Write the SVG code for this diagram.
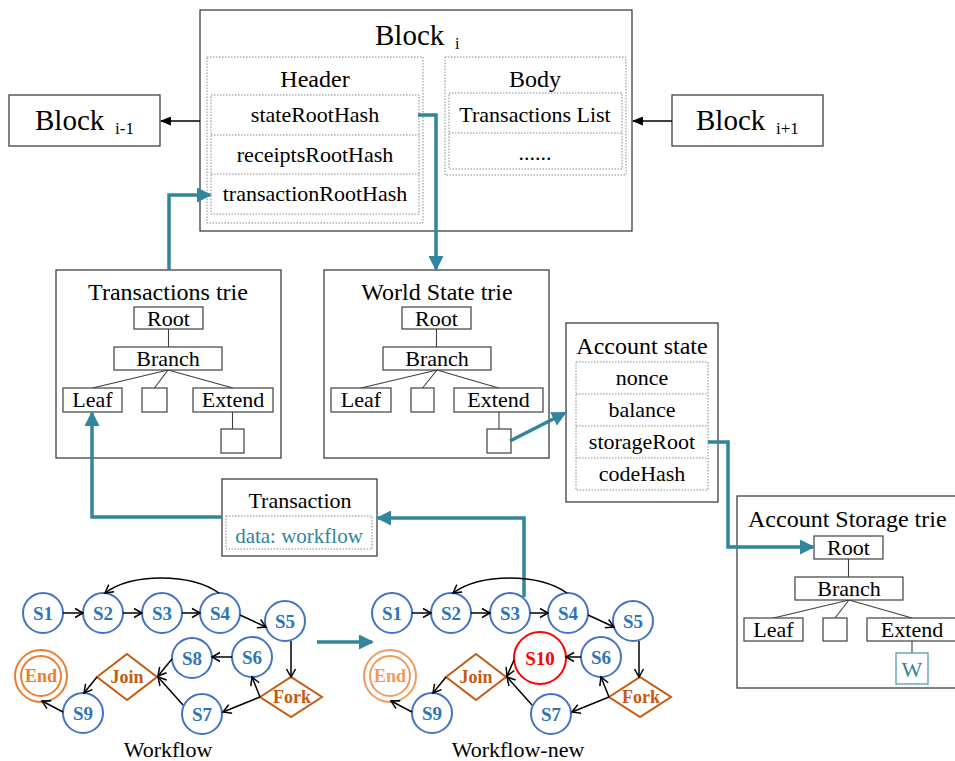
<svg xmlns="http://www.w3.org/2000/svg" width="955" height="761" viewBox="0 0 955 761">
  <style>
    .t { font-family: "Liberation Serif", "Times New Roman", serif; fill: #000; }
    .c { text-anchor: middle; }
    .box { fill: #fff; stroke: #404040; stroke-width: 1.3; }
    .nd { fill: #fff; stroke: #404040; stroke-width: 1.2; }
    .dot { fill: none; stroke: #8a8a8a; stroke-width: 1; stroke-dasharray: 1.5 1.5; }
    .tl { fill: none; stroke: #404040; stroke-width: 1.1; }
    .teal { fill: none; stroke: #31859C; stroke-width: 3.5; marker-end: url(#tealHead); }
    .blk { fill: none; stroke: #000; stroke-width: 1.4; marker-end: url(#blkHead); }
    .edge { fill: none; stroke: #000; stroke-width: 1.5; marker-end: url(#openHead); }
    .st circle { fill: #fff; stroke: #4472C4; stroke-width: 2; }
    .st text, .ctl text, .end text { font-family: "Liberation Serif", "Times New Roman", serif; font-weight: bold; text-anchor: middle; }
    .st text { font-size: 19px; fill: #2E75B6; }
    .ctl polygon { fill: #fff; stroke: #C55A11; stroke-width: 2; }
    .ctl text { font-size: 18px; fill: #C55A11; }
    .end circle { fill: #fff; stroke: #ED7D31; stroke-width: 2; }
    .end text { font-size: 18px; fill: #ED7D31; }
    .lbl { font-size: 22px; }
    .row { font-size: 22px; }
    .ttl { font-size: 24px; }
  </style>
  <defs>
    <marker id="tealHead" markerUnits="userSpaceOnUse" markerWidth="15" markerHeight="15" viewBox="0 0 15 15" refX="13" refY="7.5" orient="auto">
      <path d="M0,0 L15,7.5 L0,15 z" fill="#31859C"/>
    </marker>
    <marker id="blkHead" markerUnits="userSpaceOnUse" markerWidth="11" markerHeight="9" viewBox="0 0 11 9" refX="10" refY="4.5" orient="auto">
      <path d="M0,0 L11,4.5 L0,9 z" fill="#000"/>
    </marker>
    <marker id="openHead" markerUnits="userSpaceOnUse" markerWidth="12" markerHeight="12" viewBox="-1 -1 12 12" refX="9" refY="5" orient="auto" overflow="visible">
      <path d="M1,0.5 L9,5 L1,9.5" fill="none" stroke="#000" stroke-width="1.5"/>
    </marker>
  </defs>

  <rect width="955" height="761" fill="#fff"/>

  <!-- Block i with header and body -->
  <g id="block-i">
    <rect class="box" x="200" y="10" width="432" height="221"/>
    <text class="t" x="375" y="45" font-size="29">Block</text>
    <text class="t" x="455" y="49" font-size="16">i</text>
    <g id="header">
      <rect class="dot" x="207" y="57" width="216" height="166"/>
      <text class="t c" x="315" y="87" font-size="24">Header</text>
      <rect class="dot" x="211" y="95" width="208" height="119"/>
      <path class="dot" d="M211,135 H419 M211,174 H419"/>
      <text class="t c row" x="315" y="122">stateRootHash</text>
      <text class="t c row" x="315" y="162">receiptsRootHash</text>
      <text class="t c row" x="315" y="201">transactionRootHash</text>
    </g>
    <g id="body">
      <rect class="dot" x="445" y="57" width="181" height="118"/>
      <text class="t c" x="535" y="87" font-size="24">Body</text>
      <rect class="dot" x="449" y="93" width="173" height="76"/>
      <path class="dot" d="M449,133 H622"/>
      <text class="t c row" x="535" y="122">Transactions List</text>
      <text class="t c row" x="535" y="160">......</text>
    </g>
  </g>

  <g id="block-prev">
    <rect class="box" x="9" y="95" width="151" height="51"/>
    <text class="t" x="35" y="130" font-size="29">Block</text>
    <text class="t" x="115" y="134" font-size="17">i-1</text>
  </g>

  <g id="block-next">
    <rect class="box" x="672" y="95" width="151" height="51"/>
    <text class="t" x="696" y="130" font-size="29">Block</text>
    <text class="t" x="776" y="134" font-size="17">i+1</text>
  </g>

  <!-- Transactions trie -->
  <g id="trie-transactions">
    <rect class="box" x="56" y="270" width="225" height="188"/>
    <text class="t c ttl" x="168" y="300">Transactions trie</text>
    <path class="tl" d="M168.5,329 V347 M168,370 L92.5,388 M168,370 L154.5,388 M168,370 L233,388 M232.5,412 V429"/>
    <rect class="nd" x="134" y="307" width="69" height="22"/>
    <text class="t c lbl" x="168.5" y="326">Root</text>
    <rect class="nd" x="114" y="347" width="108" height="23"/>
    <text class="t c lbl" x="168" y="366">Branch</text>
    <rect class="nd" x="63" y="388" width="59" height="24"/>
    <text class="t c lbl" x="92.5" y="407">Leaf</text>
    <rect class="nd" x="142" y="388" width="25" height="24"/>
    <rect class="nd" x="193" y="388" width="80" height="24"/>
    <text class="t c lbl" x="233" y="407">Extend</text>
    <rect class="nd" x="221" y="429" width="23" height="24"/>
  </g>

  <!-- World State trie -->
  <g id="trie-world-state">
    <rect class="box" x="324" y="270" width="225" height="188"/>
    <text class="t c ttl" x="437" y="300">World State trie</text>
    <path class="tl" d="M436.5,329 V347 M437,370 L361,388 M437,370 L422.5,388 M437,370 L498.5,388 M499,412 V429"/>
    <rect class="nd" x="402" y="307" width="69" height="22"/>
    <text class="t c lbl" x="436.5" y="326">Root</text>
    <rect class="nd" x="383" y="347" width="108" height="23"/>
    <text class="t c lbl" x="437" y="366">Branch</text>
    <rect class="nd" x="331" y="388" width="60" height="24"/>
    <text class="t c lbl" x="361" y="407">Leaf</text>
    <rect class="nd" x="411" y="388" width="23" height="24"/>
    <rect class="nd" x="454" y="388" width="89" height="24"/>
    <text class="t c lbl" x="498.5" y="407">Extend</text>
    <rect class="nd" x="487" y="429" width="24" height="24"/>
  </g>

  <!-- Account state -->
  <g id="account-state">
    <rect class="box" x="566" y="323" width="152" height="179"/>
    <text class="t c ttl" x="642" y="354">Account state</text>
    <rect class="dot" x="576" y="362" width="132" height="128"/>
    <path class="dot" d="M576,394 H708 M576,426 H708 M576,458 H708"/>
    <text class="t c row" x="642" y="385">nonce</text>
    <text class="t c row" x="642" y="417">balance</text>
    <text class="t c row" x="642" y="449">storageRoot</text>
    <text class="t c row" x="642" y="481">codeHash</text>
  </g>

  <!-- Account Storage trie -->
  <g id="trie-account-storage">
    <rect class="box" x="737" y="496" width="230" height="192"/>
    <text class="t ttl" x="748" y="527">Account Storage trie</text>
    <path class="tl" d="M848.5,559 V577 M849,600 L773.5,618 M849,600 L835,618 M849,600 L912,618 M912,641 V653"/>
    <rect class="nd" x="814" y="536" width="69" height="23"/>
    <text class="t c lbl" x="848.5" y="555">Root</text>
    <rect class="nd" x="795" y="577" width="108" height="23"/>
    <text class="t c lbl" x="849" y="596">Branch</text>
    <rect class="nd" x="744" y="618" width="59" height="23"/>
    <text class="t c lbl" x="773.5" y="637">Leaf</text>
    <rect class="nd" x="823" y="618" width="24" height="23"/>
    <rect class="nd" x="867" y="618" width="92" height="23"/>
    <text class="t c lbl" x="912" y="637">Extend</text>
    <rect x="896" y="653" width="32" height="31" fill="#fff" stroke="#4E9FB0" stroke-width="1.3"/>
    <text class="t c lbl" x="912" y="677" style="fill:#31859C">W</text>
  </g>

  <!-- Transaction -->
  <g id="transaction">
    <rect class="box" x="222" y="479" width="155" height="77"/>
    <text class="t c lbl" x="300" y="508">Transaction</text>
    <rect class="dot" x="226" y="516" width="146" height="33"/>
    <text class="t c" x="299" y="543" font-size="21" style="fill:#31859C">data: workflow</text>
  </g>

  <!-- Workflow -->
  <g id="workflow">
    <g id="wf-s1" class="st"><circle cx="43" cy="613" r="20"/><text x="43" y="620">S1</text></g>
    <g id="wf-s2" class="st"><circle cx="103" cy="613" r="20"/><text x="103" y="620">S2</text></g>
    <g id="wf-s3" class="st"><circle cx="162" cy="613" r="20"/><text x="162" y="620">S3</text></g>
    <g id="wf-s4" class="st"><circle cx="220" cy="613" r="20"/><text x="220" y="620">S4</text></g>
    <g id="wf-s5" class="st"><circle cx="285" cy="621" r="20"/><text x="285" y="628">S5</text></g>
    <g id="wf-s6" class="st"><circle cx="252" cy="657" r="20"/><text x="252" y="664">S6</text></g>
    <g id="wf-s8" class="st"><circle cx="192" cy="658" r="20"/><text x="192" y="665">S8</text></g>
    <g id="wf-s7" class="st"><circle cx="202" cy="714" r="20"/><text x="202" y="721">S7</text></g>
    <g id="wf-s9" class="st"><circle cx="83" cy="713" r="20"/><text x="83" y="720">S9</text></g>
    <g id="wf-join" class="ctl"><polygon points="97,677 127,654 157,677 127,700"/><text x="127" y="683">Join</text></g>
    <g id="wf-fork" class="ctl"><polygon points="260,697 291,677 322,697 291,717"/><text x="292" y="703">Fork</text></g>
    <g id="wf-end" class="end"><circle cx="41" cy="676" r="26"/><circle cx="41" cy="676" r="20"/><text x="41" y="682">End</text></g>
    <text class="t c lbl" x="168" y="757">Workflow</text>
  </g>

  <!-- Workflow-new -->
  <g id="workflow-new">
    <g id="wfn-s1" class="st"><circle cx="392" cy="613" r="20"/><text x="392" y="620">S1</text></g>
    <g id="wfn-s2" class="st"><circle cx="451" cy="613" r="20"/><text x="451" y="620">S2</text></g>
    <g id="wfn-s3" class="st"><circle cx="510" cy="613" r="20"/><text x="510" y="620">S3</text></g>
    <g id="wfn-s4" class="st"><circle cx="568" cy="613" r="20"/><text x="568" y="620">S4</text></g>
    <g id="wfn-s5" class="st"><circle cx="633" cy="621" r="20"/><text x="633" y="628">S5</text></g>
    <g id="wfn-s6" class="st"><circle cx="601" cy="657" r="20"/><text x="601" y="664">S6</text></g>
    <g id="wfn-s10" class="st"><circle cx="540" cy="658" r="26" style="stroke:#FF0000"/><text x="540" y="665" style="fill:#FF0000">S10</text></g>
    <g id="wfn-s7" class="st"><circle cx="551" cy="714" r="20"/><text x="551" y="721">S7</text></g>
    <g id="wfn-s9" class="st"><circle cx="432" cy="713" r="20"/><text x="432" y="720">S9</text></g>
    <g id="wfn-join" class="ctl"><polygon points="446,677 476,654 506,677 476,700"/><text x="476" y="683">Join</text></g>
    <g id="wfn-fork" class="ctl"><polygon points="609,697 640,677 671,697 640,717"/><text x="641" y="703">Fork</text></g>
    <g id="wfn-end" class="end"><circle cx="390" cy="676" r="26" style="stroke:#F19A5E"/><circle cx="390" cy="676" r="20" style="stroke:#F19A5E"/><text x="390" y="682" style="fill:#F19A5E">End</text></g>
    <text class="t c lbl" x="518" y="757">Workflow-new</text>
  </g>

  <!-- connectors -->
  <g id="connectors">
    <path class="blk" d="M200,121 H161"/>
    <path class="blk" d="M672,121 H633"/>

    <path class="teal" d="M418,115 H436 V269"/>
    <path class="teal" d="M169,270 V195 H210"/>
    <path class="teal" d="M222,517 H92 V413"/>
    <path class="teal" d="M510,441 L565,413"/>
    <path class="teal" d="M708,442 H728 V547 H813"/>
    <path class="teal" d="M524,597 V518 H378"/>
    <path class="teal" d="M317,642 H372"/>

    <!-- Workflow edges -->
    <path class="edge" d="M63,613 H83"/>
    <path class="edge" d="M123,613 H142"/>
    <path class="edge" d="M182,613 H200"/>
    <path class="edge" d="M240,615 L266,627"/>
    <path class="edge" d="M219,593 C190,573 132,573 105,593"/>
    <path class="edge" d="M291,641 V677"/>
    <path class="edge" d="M260,697 L252,677"/>
    <path class="edge" d="M260,697 L223,712"/>
    <path class="edge" d="M232,657 H212"/>
    <path class="edge" d="M172,659 L158,676"/>
    <path class="edge" d="M183,705 L158,677"/>
    <path class="edge" d="M97,677 L84,693"/>
    <path class="edge" d="M63,712 L42,701"/>

    <!-- Workflow-new edges -->
    <path class="edge" d="M412,613 H431"/>
    <path class="edge" d="M471,613 H490"/>
    <path class="edge" d="M530,613 H548"/>
    <path class="edge" d="M588,615 L614,627"/>
    <path class="edge" d="M567,593 C538,573 481,573 453,593"/>
    <path class="edge" d="M639,641 V677"/>
    <path class="edge" d="M609,697 L601,677"/>
    <path class="edge" d="M609,697 L572,712"/>
    <path class="edge" d="M581,657 H566"/>
    <path class="edge" d="M514,660 L507,676"/>
    <path class="edge" d="M532,705 L507,677"/>
    <path class="edge" d="M446,677 L433,693"/>
    <path class="edge" d="M412,712 L391,701"/>
  </g>
</svg>
